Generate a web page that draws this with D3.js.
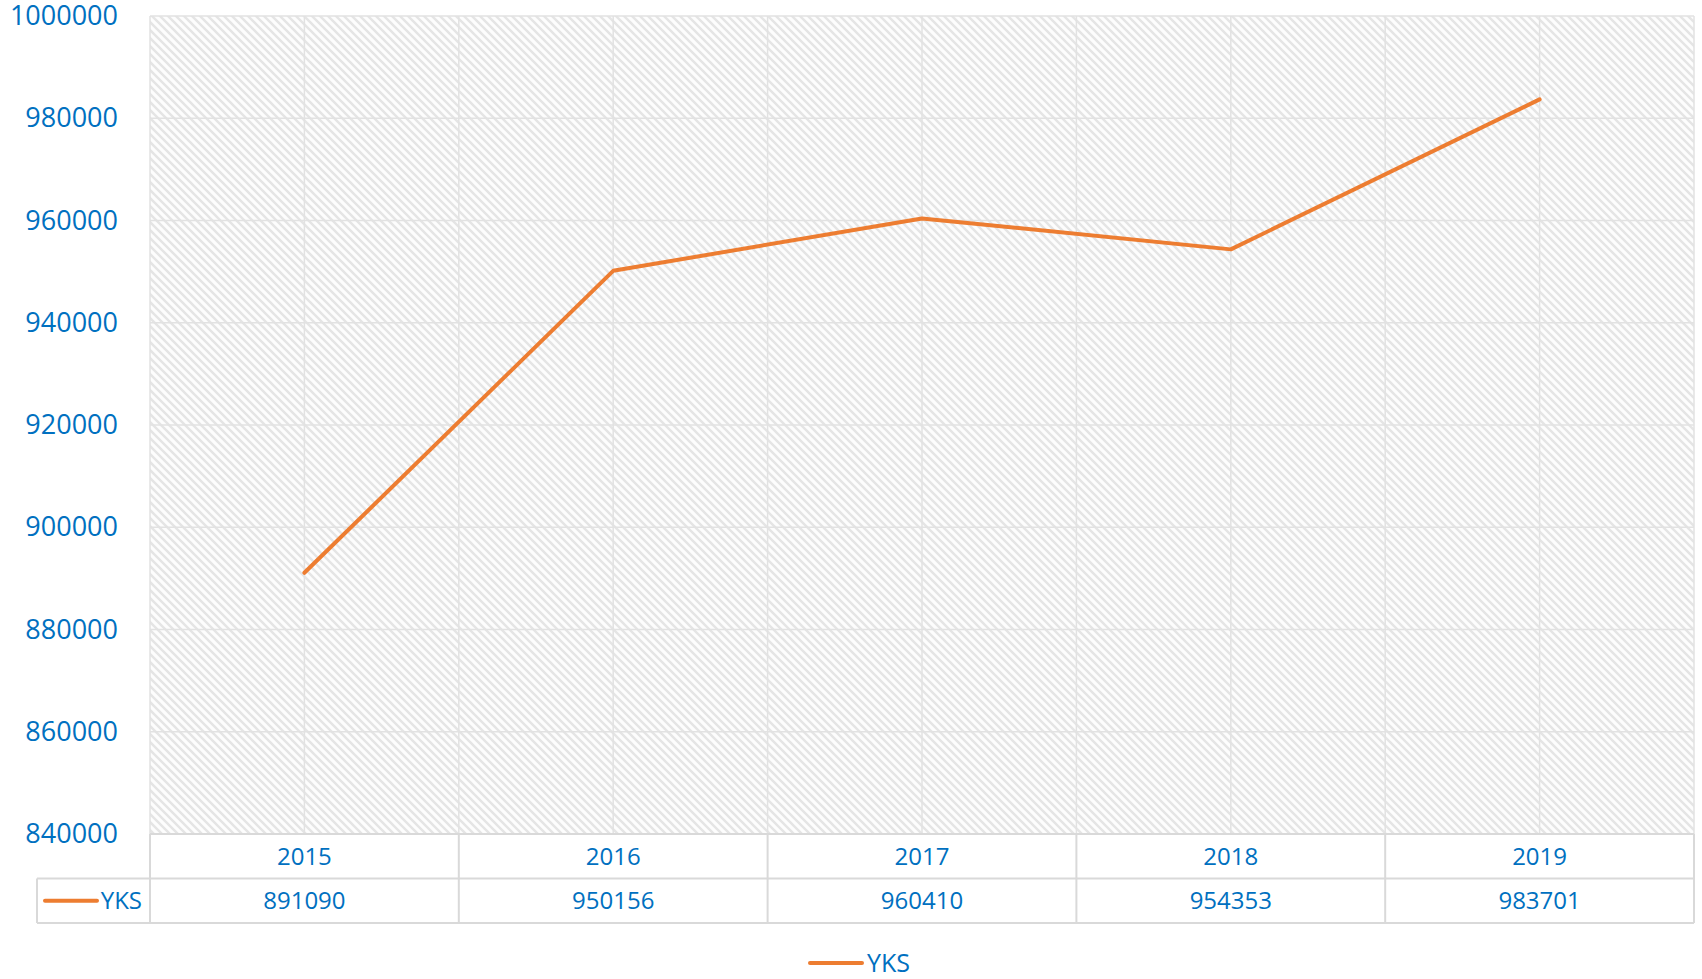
<!DOCTYPE html>
<html>
<head>
    <meta charset="utf-8">
    <title>YKS</title>
    <style type="text/css">
        body{
            margin: 0;
            background-color: #fff;
        }
        svg{
            display: block;
        }
        text{
            font-family: 'Open Sans', sans-serif;
            fill: #0070C0;
        }
        .grid line{
            stroke: #e2e2e2;
            stroke-width: 1.5px;
        }
        .tbl line{
            stroke: #d9d9d9;
            stroke-width: 2px;
        }
    </style>
    <script type="text/javascript" src="https://cdn.jsdelivr.net/npm/d3@7/dist/d3.min.js"></script>
</head>
<body>

    <div id="chart"></div>

    <script type="text/javascript">
        var years = ['2015', '2016', '2017', '2018', '2019'];
        var yks = [891090, 950156, 960410, 954353, 983701];
        var yTicks = [840000, 860000, 880000, 900000, 920000, 940000, 960000, 980000, 1000000];
        var seriesName = 'YKS';

        var width = 1702, height = 979;
        var plotLeft = 150, plotRight = 1694, plotTop = 16, plotBottom = 834;
        var rowH = 44.5, tblLeft = 37;
        var orange = '#ED7D31';

        var svg = d3.select('#chart')
            .append('svg')
            .attr('width', width)
            .attr('height', height);

        // diagonal hatch fill of the plot area
        var pat = svg.append('defs').append('pattern')
            .attr('id', 'hatch')
            .attr('patternUnits', 'userSpaceOnUse')
            .attr('width', 8)
            .attr('height', 8);
        pat.append('rect').attr('width', 8).attr('height', 8).attr('fill', '#fdfdfd');
        pat.append('path')
            .attr('d', 'M-2,-2 L10,10 M-2,6 L2,10 M6,-2 L10,2')
            .attr('stroke', '#e5e5e5')
            .attr('stroke-width', 2.4);

        var xScale = d3.scaleBand()
            .domain(years)
            .range([plotLeft, plotRight]);

        var yScale = d3.scaleLinear()
            .domain([yTicks[0], yTicks[yTicks.length - 1]])
            .range([plotBottom, plotTop]);

        svg.append('rect')
            .attr('x', plotLeft)
            .attr('y', plotTop)
            .attr('width', plotRight - plotLeft)
            .attr('height', plotBottom - plotTop)
            .attr('fill', 'url(#hatch)');

        // gridlines: band edges and band centres
        var bw = xScale.bandwidth();
        var vLines = [];
        years.forEach(function(y){
            vLines.push(xScale(y));
            vLines.push(xScale(y) + bw / 2);
        });
        vLines.push(plotRight);

        var grid = svg.append('g').attr('class', 'grid');
        grid.selectAll('.h')
            .data(yTicks)
            .enter()
            .append('line')
            .attr('x1', plotLeft)
            .attr('x2', plotRight)
            .attr('y1', function(d){ return yScale(d); })
            .attr('y2', function(d){ return yScale(d); });
        grid.selectAll('.v')
            .data(vLines)
            .enter()
            .append('line')
            .attr('x1', function(d){ return d; })
            .attr('x2', function(d){ return d; })
            .attr('y1', plotTop)
            .attr('y2', plotBottom);

        // y axis labels
        var yAxis = d3.axisLeft(yScale)
            .tickValues(yTicks)
            .tickFormat(d3.format('d'))
            .tickSize(0)
            .tickPadding(32);
        var yAxisG = svg.append('g')
            .attr('transform', 'translate(' + plotLeft + ',0)')
            .call(yAxis);
        yAxisG.select('.domain').remove();
        yAxisG.selectAll('text')
            .attr('font-size', '27px')
            .attr('font-family', "'Open Sans', sans-serif")
            .attr('fill', '#0070C0');

        // data table
        var tbl = svg.append('g').attr('class', 'tbl');
        var r1 = plotBottom + rowH, r2 = plotBottom + 2 * rowH;
        tbl.append('line').attr('x1', plotLeft).attr('x2', plotRight).attr('y1', plotBottom).attr('y2', plotBottom);
        tbl.append('line').attr('x1', tblLeft).attr('x2', plotRight).attr('y1', r1).attr('y2', r1);
        tbl.append('line').attr('x1', tblLeft).attr('x2', plotRight).attr('y1', r2).attr('y2', r2);
        tbl.append('line').attr('x1', tblLeft).attr('x2', tblLeft).attr('y1', r1).attr('y2', r2);
        var edges = years.map(function(y){ return xScale(y); }).concat([plotRight]);
        tbl.selectAll('.vd')
            .data(edges)
            .enter()
            .append('line')
            .attr('x1', function(d){ return d; })
            .attr('x2', function(d){ return d; })
            .attr('y1', plotBottom)
            .attr('y2', r2);

        svg.selectAll('.cat')
            .data(years)
            .enter()
            .append('text')
            .attr('x', function(d){ return xScale(d) + bw / 2; })
            .attr('y', plotBottom + rowH / 2)
            .attr('dy', '0.36em')
            .attr('text-anchor', 'middle')
            .attr('font-size', '24px')
            .text(function(d){ return d; });

        svg.selectAll('.val')
            .data(yks)
            .enter()
            .append('text')
            .attr('x', function(d, i){ return xScale(years[i]) + bw / 2; })
            .attr('y', r1 + rowH / 2)
            .attr('dy', '0.36em')
            .attr('text-anchor', 'middle')
            .attr('font-size', '24px')
            .text(function(d){ return d; });

        // legend key inside the table
        svg.append('line')
            .attr('x1', 45).attr('x2', 97)
            .attr('y1', r1 + rowH / 2).attr('y2', r1 + rowH / 2)
            .attr('stroke', orange)
            .attr('stroke-width', 4)
            .attr('stroke-linecap', 'round');
        svg.append('text')
            .attr('x', 142)
            .attr('y', r1 + rowH / 2)
            .attr('dy', '0.36em')
            .attr('text-anchor', 'end')
            .attr('font-size', '24px')
            .text(seriesName);

        // the series line
        var line = d3.line()
            .x(function(d, i){ return xScale(years[i]) + bw / 2; })
            .y(function(d){ return yScale(d); });

        svg.append('path')
            .datum(yks)
            .attr('d', line)
            .attr('fill', 'none')
            .attr('stroke', orange)
            .attr('stroke-width', 4)
            .attr('stroke-linejoin', 'round')
            .attr('stroke-linecap', 'round');

        // bottom legend
        svg.append('line')
            .attr('x1', 810).attr('x2', 862)
            .attr('y1', 963).attr('y2', 963)
            .attr('stroke', orange)
            .attr('stroke-width', 4)
            .attr('stroke-linecap', 'round');
        svg.append('text')
            .attr('x', 867)
            .attr('y', 963)
            .attr('dy', '0.36em')
            .attr('font-size', '25px')
            .text(seriesName);
    </script>

</body>
</html>
